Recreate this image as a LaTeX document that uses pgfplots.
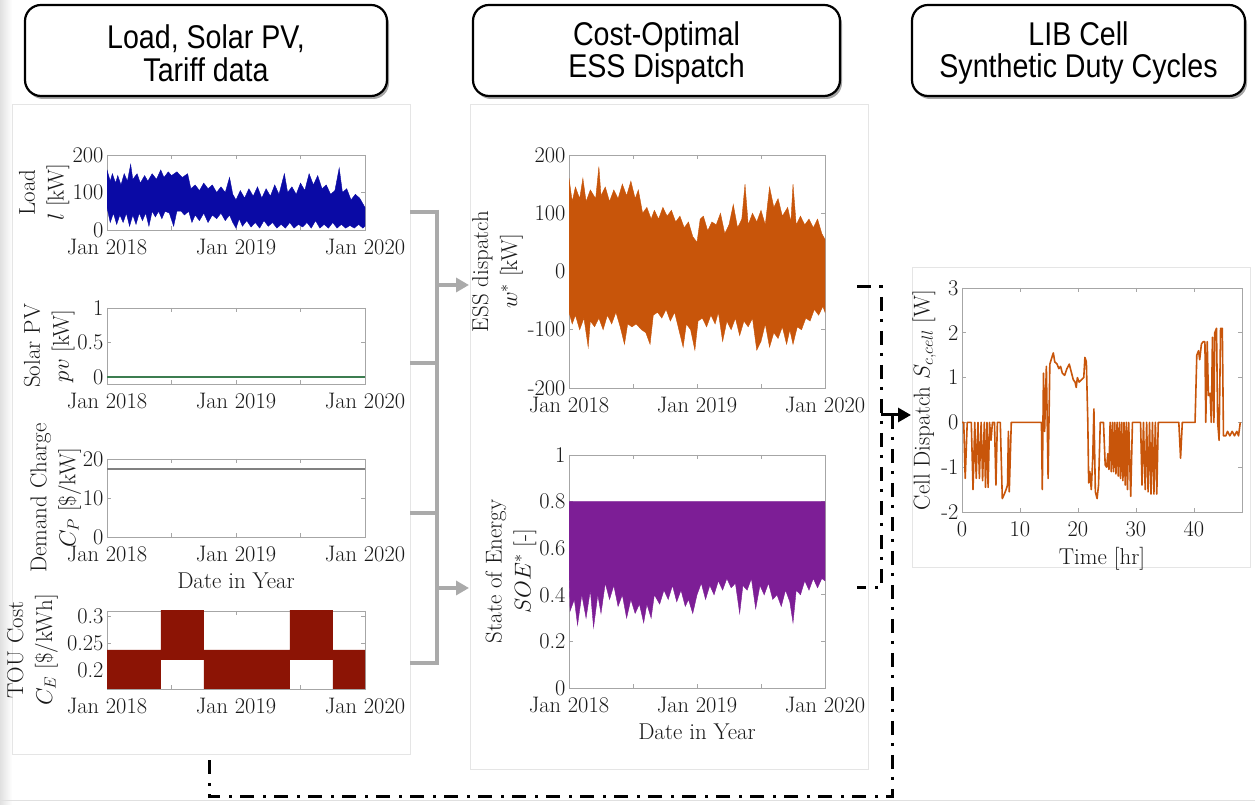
\RequirePackage{fix-cm}
\documentclass[border=0pt]{standalone}
\usepackage{fontspec}
\usepackage{pgfplots}
\pgfplotsset{compat=1.18}
\usetikzlibrary{arrows.meta}
\newfontfamily\titlefont[FakeStretch=0.87]{Liberation Sans}

\definecolor{loadblue}{RGB}{10,10,165}
\definecolor{pvgreen}{RGB}{60,125,80}
\definecolor{dcgray}{RGB}{128,128,128}
\definecolor{tou}{RGB}{140,20,5}
\definecolor{ess}{RGB}{200,85,10}
\definecolor{soe}{RGB}{125,30,150}
\definecolor{conn}{RGB}{170,170,170}

\pgfplotsset{
  every axis/.append style={
    scale only axis,
    axis line style={black!35, line width=0.7bp},
    tick style={black!35, line width=0.7bp},
    major tick length=4bp,
    tick align=inside,
    tick pos=both,
    tick label style={font=\fontsize{22.5}{27}\selectfont, text=black!90},
    xticklabel style={yshift=-6bp},
    label style={font=\fontsize{23}{29}\selectfont, text=black!90},
    xlabel style={yshift=-4bp},
    ylabel style={align=center, inner sep=0pt, anchor=south},
    /pgf/number format/assume math mode=true,
  },
  dateaxis/.style={xmin=0, xmax=24, xtick={0,6,12,18,24},
    xticklabels={Jan 2018,,Jan 2019,,Jan 2020}},
}

\begin{document}
\begin{tikzpicture}[x=1bp, y=1bp]
\useasboundingbox (0,0) rectangle (1255,805);
\fill[white] (0,0) rectangle (1255,805);
\shade[left color=black!12, right color=white] (0,0) rectangle (12,805);
\draw[black!12, line width=1bp] (0,4) -- (1255,4);

% panels
\draw[black!10, fill=white, line width=1bp] (12,50) rectangle (410,700);
\draw[black!10, fill=white, line width=1bp] (470,35) rectangle (868,700);
\draw[black!10, fill=white, line width=1bp] (912,237) rectangle (1250,537);

% title boxes
\foreach \a/\b in {25/387, 473/840, 912/1245}{
  \fill[black!35, rounded corners=16bp] (\a+2,706) rectangle (\b+2,797);
  \draw[line width=2.2bp, rounded corners=16bp, fill=white] (\a,709) rectangle (\b,800);
}
\node[align=center, font=\titlefont\fontsize{33}{33}\selectfont] at (206,752) {Load, Solar PV,\\Tariff data};
\node[align=center, font=\titlefont\fontsize{33}{33}\selectfont] at (656.5,752) {Cost-Optimal\\ESS Dispatch};
\node[align=center, font=\titlefont\fontsize{33}{33}\selectfont] at (1078.5,752) {LIB Cell\\Synthetic Duty Cycles};

% ---------- Load ----------
\begin{axis}[at={(107bp,575bp)}, anchor=south west, width=258bp, height=75bp,
  dateaxis, ymin=0, ymax=200, ytick={0,100,200},
  ylabel={Load\\$l$ [kW]}, ylabel style={at={(rel axis cs:-0.145,0.5)}}]
\addplot[fill=loadblue, draw=loadblue, line width=0.4bp] coordinates {
(0,160)(0.3,130)(0.5,150)(0.8,125)(1.0,145)(1.3,120)(1.6,150)(1.9,130)(2.2,175)(2.4,135)
(2.8,150)(3.1,125)(3.5,145)(3.8,130)(4.2,150)(4.6,135)(5.0,160)(5.3,140)(5.7,155)(6.0,145)
(6.5,155)(7.0,140)(7.5,150)(7.8,110)(8.2,120)(8.6,105)(9.0,125)(9.4,110)(9.8,120)(10.2,100)
(10.6,115)(11.0,100)(11.4,140)(11.7,95)(12.0,80)(12.4,105)(12.8,85)(13.2,110)(13.6,90)(14.0,115)
(14.4,85)(14.8,110)(15.2,90)(15.6,120)(16.0,95)(16.5,150)(16.8,100)(17.2,115)(17.6,95)(18.0,125)
(18.4,105)(18.8,150)(19.2,120)(19.6,145)(20.0,110)(20.4,120)(20.8,95)(21.2,105)(21.6,165)(21.9,100)
(22.3,110)(22.7,80)(23.1,95)(23.5,85)(23.8,70)(24,60)
(24,10)(23.8,5)(23.4,15)(23.0,5)(22.6,12)(22.2,5)(21.8,15)(21.4,5)(21.0,20)(20.6,5)
(20.2,15)(19.8,5)(19.4,25)(19.0,5)(18.6,20)(18.2,8)(17.8,15)(17.4,5)(17.0,20)(16.6,5)
(16.2,15)(15.8,5)(15.4,20)(15.0,10)(14.6,25)(14.2,5)(13.8,20)(13.4,8)(13.0,25)(12.6,10)
(12.3,30)(12.0,5)(11.7,20)(11.4,40)(11.0,25)(10.6,45)(10.2,30)(9.8,40)(9.4,20)(9.0,45)
(8.6,25)(8.2,40)(7.9,20)(7.6,50)(7.2,40)(6.9,50)(6.5,50)(6.2,10)(5.8,45)(5.4,50)
(5.1,30)(4.8,50)(4.5,35)(4.2,50)(3.9,10)(3.6,45)(3.3,25)(3.0,45)(2.7,15)(2.4,40)
(2.1,10)(1.8,45)(1.5,20)(1.2,40)(0.9,15)(0.6,45)(0.3,20)(0,60)} -- cycle;
\end{axis}

% ---------- Solar PV ----------
\begin{axis}[at={(107bp,421bp)}, anchor=south west, width=258bp, height=76bp,
  dateaxis, ymin=-0.1, ymax=1, ytick={0,0.5,1},
  ylabel={Solar PV\\$pv$ [kW]}, ylabel style={at={(rel axis cs:-0.125,0.5)}}]
\addplot[pvgreen, line width=1.8bp] coordinates {(0,0)(24,0)};
\end{axis}

% ---------- Demand charge ----------
\begin{axis}[at={(107bp,268bp)}, anchor=south west, width=258bp, height=78bp,
  dateaxis, ymin=0, ymax=20, ytick={0,10,20},
  xlabel={Date in Year},
  ylabel={Demand Charge\\$C_P$ [\$/kW]}, ylabel style={at={(rel axis cs:-0.1,0.5)}}]
\addplot[dcgray, line width=2bp] coordinates {(0,17.4)(24,17.4)};
\end{axis}

% ---------- TOU ----------
\begin{axis}[at={(107bp,116bp)}, anchor=south west, width=258bp, height=78bp,
  dateaxis, ymin=0.165, ymax=0.31, ytick={0.2,0.25,0.3},
  ylabel={TOU Cost\\$C_E$ [\$/kWh]}, ylabel style={at={(rel axis cs:-0.19,0.5)}}]
\addplot[fill=tou, draw=none] coordinates {
(0,0.2375)(5,0.2375)(5,0.32)(9,0.32)(9,0.2375)(17,0.2375)(17,0.32)(21,0.32)(21,0.2375)(24,0.2375)
(24,0.16)(21,0.16)(21,0.219)(17,0.219)(17,0.16)(9,0.16)(9,0.219)(5,0.219)(5,0.16)(0,0.16)} -- cycle;
\end{axis}

% ---------- ESS dispatch ----------
\begin{axis}[at={(569bp,417bp)}, anchor=south west, width=256bp, height=233bp,
  dateaxis, ymin=-200, ymax=200, ytick={-200,-100,0,100,200},
  ylabel={ESS dispatch\\$w^*$ [kW]}, ylabel style={at={(rel axis cs:-0.18,0.5)}}]
\addplot[fill=ess, draw=ess, line width=0.4bp] coordinates {
(0,160)(0.3,120)(0.6,145)(1.0,125)(1.3,160)(1.6,120)(2.0,140)(2.5,125)(2.8,180)(3.0,130)
(3.4,145)(3.8,120)(4.2,140)(4.6,125)(5.0,150)(5.4,130)(5.8,155)(6.2,125)(6.5,140)(6.9,100)
(7.3,110)(7.7,90)(8.0,105)(8.4,90)(8.8,110)(9.2,95)(9.6,105)(10.0,85)(10.4,95)(10.8,75)
(11.2,85)(11.6,60)(12.0,50)(12.3,90)(12.6,95)(13.0,70)(13.4,85)(13.8,80)(14.2,100)(14.6,65)
(15.0,80)(15.4,115)(15.8,75)(16.2,90)(16.5,150)(16.8,80)(17.2,100)(17.6,85)(18.0,105)(18.4,80)
(18.8,145)(19.2,110)(19.6,125)(20.0,95)(20.5,110)(20.8,85)(21.0,150)(21.3,80)(21.7,95)(22.1,80)
(22.5,90)(22.9,75)(23.3,90)(23.7,65)(24,55)
(24,-70)(23.8,-60)(23.4,-75)(23.0,-65)(22.6,-85)(22.2,-80)(21.8,-100)(21.4,-95)(21.0,-125)(20.7,-100)
(20.4,-125)(20.0,-95)(19.6,-115)(19.2,-105)(18.8,-130)(18.4,-90)(18.0,-120)(17.6,-135)(17.2,-80)(16.8,-95)
(16.4,-85)(16.0,-110)(15.6,-80)(15.2,-100)(14.8,-85)(14.4,-120)(14.0,-70)(13.7,-90)(13.3,-75)(12.9,-95)
(12.5,-80)(12.1,-85)(11.8,-135)(11.4,-100)(11.0,-90)(10.7,-130)(10.3,-100)(9.9,-70)(9.5,-85)(9.1,-65)
(8.7,-80)(8.3,-70)(7.9,-75)(7.6,-125)(7.2,-105)(6.8,-100)(6.3,-90)(5.9,-95)(5.5,-90)(5.2,-125)
(4.8,-95)(4.4,-70)(4.0,-90)(3.6,-75)(3.2,-100)(2.8,-80)(2.4,-95)(2.0,-85)(1.8,-130)(1.4,-80)
(1.0,-100)(0.6,-75)(0.3,-90)(0,-70)} -- cycle;
\end{axis}

% ---------- SOE ----------
\begin{axis}[at={(569bp,117bp)}, anchor=south west, width=256bp, height=233bp,
  dateaxis, ymin=0, ymax=1, ytick={0,0.2,0.4,0.6,0.8,1},
  xlabel={Date in Year},
  ylabel={State of Energy\\$SOE^*$ [-]}, ylabel style={at={(rel axis cs:-0.127,0.5)}}]
\addplot[fill=soe, draw=soe, line width=0.4bp] coordinates {
(0,0.8)(24,0.8)
(24,0.46)(23.7,0.47)(23.3,0.43)(22.9,0.47)(22.5,0.42)(22.1,0.46)(21.7,0.40)(21.3,0.42)(21.0,0.28)(20.7,0.37)
(20.3,0.42)(19.9,0.35)(19.5,0.40)(19.1,0.38)(18.7,0.45)(18.3,0.40)(17.9,0.44)(17.5,0.34)(17.1,0.47)(16.7,0.42)
(16.3,0.44)(16.0,0.32)(15.6,0.45)(15.2,0.43)(14.8,0.47)(14.4,0.42)(14.0,0.46)(13.6,0.40)(13.2,0.44)(12.8,0.38)
(12.4,0.45)(12.0,0.40)(11.6,0.32)(11.2,0.38)(10.9,0.35)(10.5,0.42)(10.1,0.37)(9.7,0.44)(9.3,0.38)(8.9,0.42)
(8.5,0.36)(8.0,0.40)(7.7,0.30)(7.3,0.36)(7.0,0.28)(6.6,0.36)(6.2,0.32)(5.8,0.38)(5.4,0.30)(5.0,0.40)
(4.6,0.35)(4.2,0.44)(3.8,0.38)(3.4,0.45)(3.0,0.32)(2.7,0.40)(2.3,0.26)(2.0,0.42)(1.6,0.30)(1.2,0.40)
(0.8,0.27)(0.5,0.38)(0.1,0.33)(0,0.5)} -- cycle;
\end{axis}

% ---------- Cell dispatch ----------
\begin{axis}[at={(962bp,293bp)}, anchor=south west, width=280bp, height=224bp,
  xmin=0, xmax=48.3, ymin=-2, ymax=3, xtick={0,10,20,30,40}, ytick={-2,-1,0,1,2,3},
  xlabel={Time [hr]},
  ylabel={Cell Dispatch $S_{c,cell}$ [W]}, ylabel style={at={(rel axis cs:-0.092,0.5)}}]
\addplot[ess, line width=1.6bp, line join=round] coordinates {
(0,0)(0.3,0)(0.55,-1.25)(0.9,0)(1.6,0)(1.9,-1.5)(2.2,0)(2.45,-1.25)(2.75,0)(3.0,-1.25)
(3.3,0)(3.55,-1.3)(3.85,0)(4.05,-1.45)(4.3,0)(4.5,-1.45)(4.75,0)(5.0,-0.4)(5.25,0)(5.6,0)
(5.85,-1.4)(6.1,0)(6.6,0)(6.95,-1.7)(7.3,-1.6)(7.6,-1.5)(7.85,-1.4)(8.0,-0.2)(8.15,-1.55)(8.5,0)
(13.7,0)(13.85,-1.5)(14.05,1.1)(14.25,-0.2)(14.55,1.25)(14.85,-1.25)(15.15,1.3)(15.5,1.45)(15.75,1.55)(16.0,1.35)
(16.4,1.3)(16.7,1.2)(17.0,1.25)(17.3,1.1)(17.7,1.05)(18.1,1.2)(18.5,1.3)(18.9,1.1)(19.2,0.95)(19.5,0.9)
(19.7,0.78)(19.9,1.0)(20.2,0.9)(20.6,0.95)(21.0,1.0)(21.2,1.45)(21.45,1.35)(21.7,0)(21.85,-1.35)(22.05,-1.1)
(22.3,-1.5)(22.55,-0.8)(22.75,0.3)(23.0,-1.55)(23.3,-1.7)(23.55,-1.4)(23.85,0)(24.4,0)(24.7,-0.95)(24.95,-1.0)
(25.15,-0.7)(25.35,-1.05)(25.55,0)(25.75,-1.1)(25.95,0)(26.15,-1.1)(26.35,0)(26.55,-1.15)(26.75,0)(26.95,-1.2)
(27.15,0)(27.35,-1.25)(27.55,0)(27.75,-1.3)(27.95,0)(28.15,-1.4)(28.35,0)(28.55,-1.5)(28.75,0)(29.1,-1.65)
(29.4,0)(30.8,0)(31.05,-1.4)(31.3,0)(31.6,-1.5)(31.85,0)(32.1,-1.55)(32.35,0)(32.6,-1.6)(32.85,0)
(33.1,-1.6)(33.35,0)(33.6,-1.6)(33.85,0)(37.4,0)(37.7,-0.8)(38.0,0)(40.2,0)(40.5,1.5)(40.8,1.6)
(41.0,1.4)(41.3,1.75)(41.6,1.8)(41.9,1.8)(42.05,0)(42.3,1.8)(42.5,0.6)(42.8,0.65)(43.0,0)(43.2,1.9)
(43.45,0)(43.6,2.0)(43.9,2.1)(44.1,0)(44.35,-0.4)(44.6,2.1)(44.9,2.1)(45.1,-0.3)(45.5,-0.3)(45.8,-0.2)
(46.2,-0.3)(46.6,-0.2)(47.0,-0.3)(47.4,-0.2)(47.7,-0.3)(48.0,0)};
\end{axis}

% ---------- gray connectors ----------
\begin{scope}[conn, line width=4bp]
\draw (410,593) -- (437,593);
\draw (410,442) -- (437,442);
\draw (410,292) -- (437,292);
\draw (410,142) -- (437,142);
\draw (437,595) -- (437,140);
\draw[-{Triangle[length=13bp,width=14bp]}] (437,520) -- (469,520);
\draw[-{Triangle[length=13bp,width=14bp]}] (437,217) -- (469,217);
\end{scope}

% ---------- dash-dot connectors ----------
\begin{scope}[black, line width=3bp, dash pattern=on 14bp off 8bp on 3bp off 9bp]
\draw (857,518) -- (881,518) -- (881,217) -- (857,217);
\draw (892,390) -- (892,8) -- (209,8) -- (209,48);
\end{scope}
\draw[black, line width=3bp, -{Triangle[length=13bp,width=14bp]}] (881,390) -- (911,390);
\end{tikzpicture}
\end{document}
